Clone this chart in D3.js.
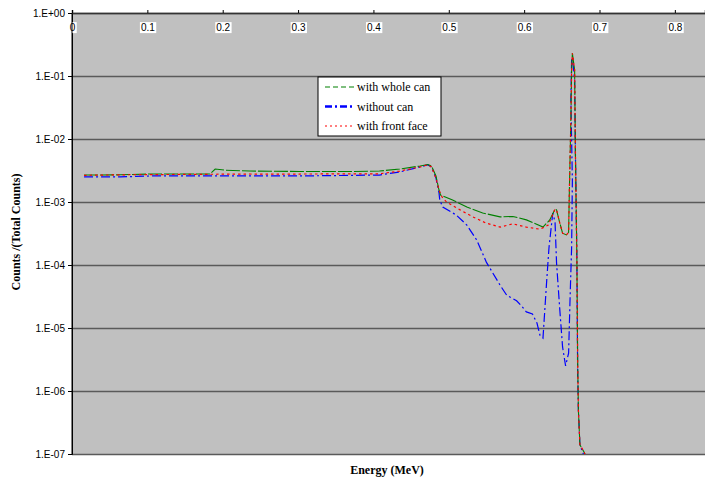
<!DOCTYPE html>
<html>
<head>
<meta charset="utf-8">
<script src="https://cdn.jsdelivr.net/npm/d3@7"></script>
<style>
  body { margin: 0; background: #fff; }
  svg text { font-family: "Liberation Sans", Arial, sans-serif; }
</style>
</head>
<body>
<div id="chart"></div>
<script>
// energies (MeV) and normalised counts
const wholeCanE = [0.016, 0.064, 0.103, 0.170, 0.183, 0.190, 0.203, 0.236, 0.302, 0.369, 0.408, 0.435, 0.462, 0.472, 0.477, 0.483, 0.487, 0.489, 0.505, 0.524, 0.545, 0.568, 0.585, 0.603, 0.625, 0.634, 0.641, 0.643, 0.647, 0.651, 0.656, 0.659, 0.660, 0.662, 0.663, 0.664, 0.667, 0.668, 0.670, 0.671, 0.672, 0.674, 0.680, 0.683];
const wholeCanCounts = [2.68e-3, 2.7e-3, 2.78e-3, 2.78e-3, 2.78e-3, 3.34e-3, 3.2e-3, 3.1e-3, 3.05e-3, 3.05e-3, 3.1e-3, 3.34e-3, 3.73e-3, 3.94e-3, 3.73e-3, 2.59e-3, 1.55e-3, 1.29e-3, 1.08e-3, 8.3e-4, 6.7e-4, 5.8e-4, 5.9e-4, 5.2e-4, 4.0e-4, 5.2e-4, 7.7e-4, 7.5e-4, 4.8e-4, 3.2e-4, 3.0e-4, 3.3e-4, 1.5e-3, 2.0e-2, 0.124, 0.23, 0.124, 6.7e-3, 1.2e-4, 3.1e-6, 5e-7, 1.4e-7, 1.05e-7, 8e-8];

const noCanE = [0.016, 0.064, 0.103, 0.302, 0.408, 0.435, 0.462, 0.472, 0.477, 0.483, 0.487, 0.488, 0.492, 0.510, 0.524, 0.537, 0.550, 0.568, 0.577, 0.590, 0.597, 0.603, 0.611, 0.617, 0.621, 0.625, 0.630, 0.633, 0.637, 0.638, 0.641, 0.643, 0.647, 0.651, 0.655, 0.659, 0.661, 0.663, 0.664, 0.662, 0.663, 0.664, 0.667, 0.668, 0.670, 0.671, 0.672, 0.674, 0.680];
const noCanCounts = [2.5e-3, 2.5e-3, 2.59e-3, 2.59e-3, 2.68e-3, 3.0e-3, 3.6e-3, 3.9e-3, 3.6e-3, 2.4e-3, 1.4e-3, 1.08e-3, 8.3e-4, 6.2e-4, 4.3e-4, 2.5e-4, 1.1e-4, 4.8e-5, 3.3e-5, 2.7e-5, 2.2e-5, 1.8e-5, 1.67e-5, 1.2e-5, 7.7e-6, 6.9e-6, 5.8e-5, 1.9e-4, 5.2e-4, 6.7e-4, 4.8e-4, 1.08e-4, 2.2e-5, 5e-6, 2.5e-6, 4e-6, 3.1e-5, 1.9e-4, 2.2e-3, 4.2e-2, 0.18, 0.2, 8.6e-2, 6.7e-3, 1.2e-4, 2e-6, 5e-7, 1.4e-7, 9e-8];

const frontFaceE = [0.016, 0.064, 0.103, 0.236, 0.302, 0.408, 0.435, 0.462, 0.472, 0.477, 0.483, 0.487, 0.491, 0.497, 0.515, 0.532, 0.550, 0.568, 0.585, 0.603, 0.621, 0.632, 0.641, 0.643, 0.647, 0.651, 0.656, 0.659, 0.660, 0.662, 0.663, 0.664, 0.667, 0.668, 0.670, 0.671, 0.672, 0.674, 0.680, 0.683];
const frontFaceCounts = [2.65e-3, 2.7e-3, 2.72e-3, 2.78e-3, 2.78e-3, 2.8e-3, 3.1e-3, 3.6e-3, 3.9e-3, 3.6e-3, 2.4e-3, 1.55e-3, 1.2e-3, 1.0e-3, 7.5e-4, 5.8e-4, 4.6e-4, 4.0e-4, 4.5e-4, 4.0e-4, 3.7e-4, 4.3e-4, 7.7e-4, 7.5e-4, 4.8e-4, 3.2e-4, 3.0e-4, 3.3e-4, 1.5e-3, 2.0e-2, 0.124, 0.23, 0.124, 6.7e-3, 1.2e-4, 3.1e-6, 5e-7, 1.4e-7, 1.05e-7, 8e-8];

const xTicks = [0, 0.1, 0.2, 0.3, 0.4, 0.5, 0.6, 0.7, 0.8];
const yTicks = [1, 1e-1, 1e-2, 1e-3, 1e-4, 1e-5, 1e-6, 1e-7];
const legendNames = ['with whole can', 'without can', 'with front face'];

const width = 705, height = 482;
const plot = {left: 72, right: 705, top: 13, bottom: 454};

let svg = d3.select('#chart').append('svg')
  .attr('width', width)
  .attr('height', height);

let x = d3.scaleLinear().domain([0, 0.84]).range([plot.left, plot.right]);
let y = d3.scaleLog().domain([1e-7, 1]).range([plot.bottom, plot.top]);

// plot background
svg.append('rect')
  .attr('x', plot.left).attr('y', plot.top)
  .attr('width', plot.right - plot.left).attr('height', plot.bottom - plot.top)
  .attr('fill', '#c0c0c0');

// gridlines
let grid = svg.append('g')
  .attr('transform', 'translate(' + plot.left + ',0)')
  .call(d3.axisLeft(y).tickValues(yTicks).tickSize(-(plot.right - plot.left)).tickFormat(''));
grid.select('.domain').remove();
grid.selectAll('line').attr('stroke', '#5a5a5a').attr('stroke-width', 1.3);

// y axis
let yAxis = svg.append('g')
  .attr('transform', 'translate(' + plot.left + ',0)')
  .call(d3.axisLeft(y).tickValues(yTicks).tickSize(4).tickPadding(3)
    .tickFormat(d => '1.E' + (d >= 1 ? '+00' : '-0' + Math.round(-Math.log10(d)))));
yAxis.select('.domain').attr('stroke', '#000');
yAxis.selectAll('text').attr('font-size', 10).attr('fill', '#000');

// series (blue first so red/green sit on top like the reference)
svg.append('clipPath').attr('id', 'plotclip').append('rect')
  .attr('x', plot.left).attr('y', plot.top)
  .attr('width', plot.right - plot.left).attr('height', plot.bottom - plot.top);

let series = [
  {e: noCanE, v: noCanCounts, color: '#0000ff', dash: '9,3,2,3', w: 1.2},
  {e: wholeCanE, v: wholeCanCounts, color: '#008000', dash: '14,2', w: 1.1},
  {e: frontFaceE, v: frontFaceCounts, color: '#ff0000', dash: '2.5,3', w: 1.2}
];

let line = d3.line().x(d => x(d[0])).y(d => y(d[1]));

let lineGroup = svg.append('g').attr('clip-path', 'url(#plotclip)');
series.forEach(s => {
  lineGroup.append('path')
    .datum(s.e.map((e, i) => [e, s.v[i]]))
    .attr('fill', 'none')
    .attr('stroke', s.color)
    .attr('stroke-width', s.w)
    .attr('stroke-dasharray', s.dash)
    .attr('d', line);
});

// x axis on top, labels below the line on white boxes
let xAxis = svg.append('g')
  .attr('transform', 'translate(0,' + plot.top + ')')
  .call(d3.axisBottom(x).tickValues(xTicks).tickSize(-3).tickPadding(11)
    .tickFormat(d => d === 0 ? '0' : d3.format('.1f')(d)));
xAxis.select('.domain').attr('stroke', '#333').attr('stroke-width', 1.5);
xAxis.selectAll('.tick line').attr('stroke', '#000');
xAxis.selectAll('.tick text').attr('font-size', 10).attr('fill', '#000');
xAxis.selectAll('.tick').each(function() {
  let t = d3.select(this).select('text');
  let b = t.node().getBBox();
  d3.select(this).insert('rect', 'text')
    .attr('x', b.x - 1).attr('y', b.y)
    .attr('width', b.width + 2).attr('height', b.height)
    .attr('fill', '#fff');
});

// left axis line drawn again on top
svg.append('line')
  .attr('x1', plot.left).attr('x2', plot.left)
  .attr('y1', plot.top).attr('y2', plot.bottom)
  .attr('stroke', '#000');

// legend
let legend = svg.append('g').attr('transform', 'translate(318,77)');
legend.append('rect')
  .attr('width', 123).attr('height', 59)
  .attr('fill', '#fff').attr('stroke', '#000');
let legendStyle = [
  {color: '#008000', dash: '5,3', w: 1.2},
  {color: '#0000ff', dash: '7,3,2,3', w: 2.5},
  {color: '#ff0000', dash: '2,3', w: 1.2}
];
legendNames.forEach((n, i) => {
  let ly = 10 + i * 19.5;
  legend.append('line')
    .attr('x1', 7).attr('x2', 37).attr('y1', ly).attr('y2', ly)
    .attr('stroke', legendStyle[i].color)
    .attr('stroke-width', legendStyle[i].w)
    .attr('stroke-dasharray', legendStyle[i].dash);
  legend.append('text')
    .attr('x', 39).attr('y', ly + 4)
    .attr('font-size', 12)
    .style('font-family', '"Liberation Serif", "Times New Roman", serif')
    .text(n);
});

// axis titles
svg.append('text')
  .attr('x', 387).attr('y', 474)
  .attr('text-anchor', 'middle')
  .attr('font-size', 12).attr('font-weight', 'bold')
  .style('font-family', '"Liberation Serif", "Times New Roman", serif')
  .text('Energy (MeV)');

svg.append('text')
  .attr('transform', 'translate(20,232) rotate(-90)')
  .attr('text-anchor', 'middle')
  .attr('font-size', 12).attr('font-weight', 'bold')
  .style('font-family', '"Liberation Serif", "Times New Roman", serif')
  .text('Counts /(Total Counts)');
</script>
</body>
</html>
